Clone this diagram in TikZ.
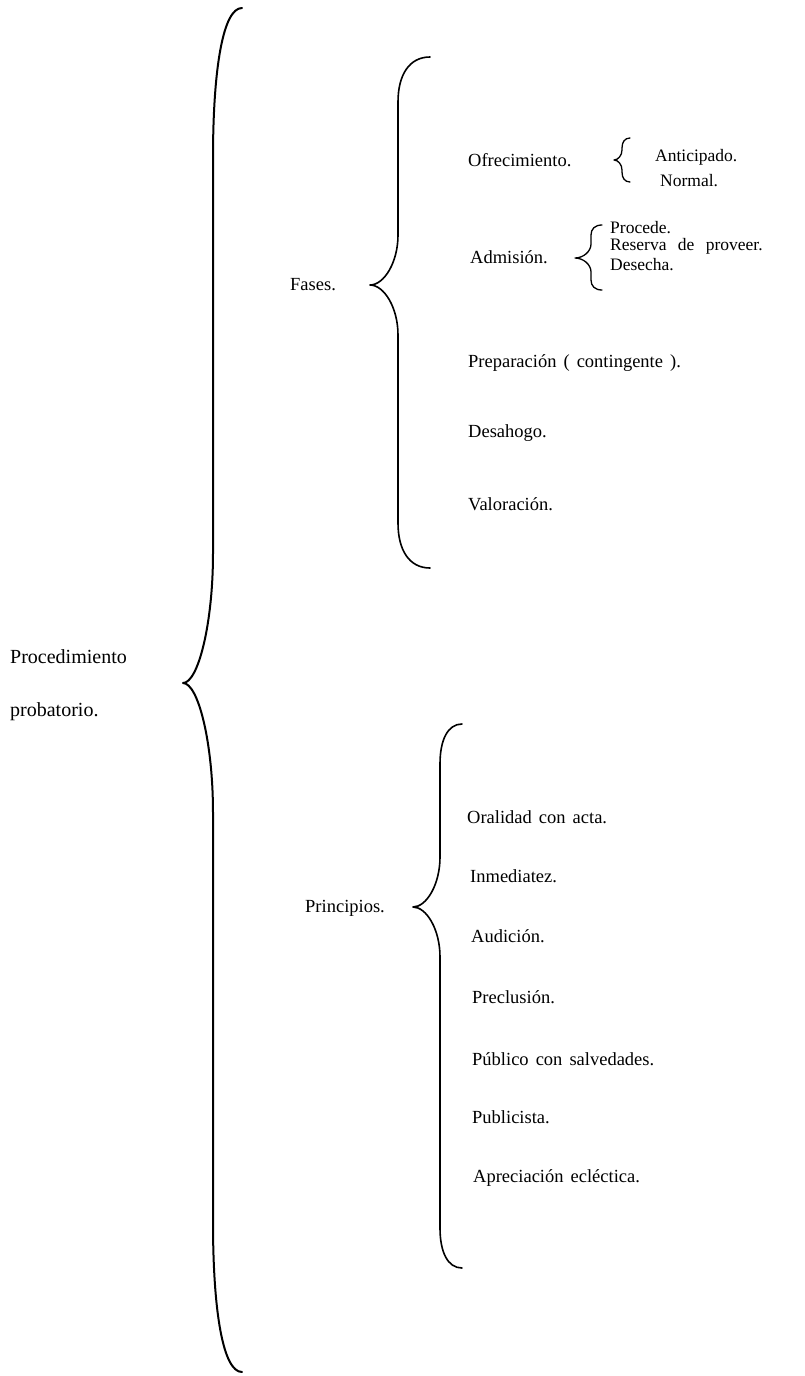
\documentclass[tikz,border=0pt]{standalone}
\usepackage{fontspec}
\setmainfont{Liberation Serif}
\newcommand\widespaces{\spaceskip=0.38em plus 0.1em\relax}
% left-pointing curly brace:
% #1 options, #2 end x, #3 spine x, #4 tip x, #5 top y, #6 tip y, #7 bottom y,
% #8 length of the end curves, #9 length of the tip curves
\newcommand\leftcurly[9][]{%
  \draw[bracestroke,#1] (#2,#5)
    .. controls ({#3+0.35*(#2-#3)},#5) and (#3,{#5+0.4*#8}) .. (#3,{#5+#8})
    -- (#3,{#6-#9})
    .. controls (#3,{#6-0.45*#9}) and ({#4+0.5*(#3-#4)},#6) .. (#4,#6)
    .. controls ({#4+0.5*(#3-#4)},#6) and (#3,{#6+0.45*#9}) .. (#3,{#6+#9})
    -- (#3,{#7-#8})
    .. controls (#3,{#7-0.4*#8}) and ({#3+0.35*(#2-#3)},#7) .. (#2,#7);}
\begin{document}
\begin{tikzpicture}[x=1pt,y=-1pt,
  txt/.style={anchor=west,inner sep=0pt,font=\fontsize{18.5}{19}\selectfont,
    execute at begin node=\widespaces},
  roottxt/.style={txt,font=\fontsize{20}{21}\selectfont},
  subtxt/.style={txt,font=\fontsize{17.5}{19}\selectfont},
  bracestroke/.style={line width=1.6pt,line cap=round,line join=round}]
\useasboundingbox (0,0) rectangle (804,1376);

% root
\node[roottxt] (proc) at (10,657) {Procedimiento};
\node[roottxt] (prob) at (10,712) {probatorio.};
\leftcurly[line width=2pt]{242}{213}{183}{8}{683}{1372}{150}{130}

% phases
\node[txt] (fases) at (290,285) {Fases.};
\leftcurly{430}{398}{370}{57}{285}{568}{45}{50}

\node[txt] (ofre) at (468,160) {Ofrecimiento.};
\leftcurly[line width=1.3pt]{630}{622}{614}{138}{160}{182}{10}{10}
\node[subtxt] (anti) at (655,157) {Anticipado.};
\node[subtxt] (norm) at (660,181) {Normal.};

\node[txt] (admi) at (470,257) {Admisión.};
\leftcurly[line width=1.3pt]{602}{591}{575}{225}{258}{290}{10}{14}
\node[subtxt] (proce) at (610,228) {Procede.};
\node[subtxt,execute at begin node={\spaceskip=0.65em\relax}] (reser) at (610,246) {Reserva de proveer.};
\node[subtxt] (dese) at (610,265) {Desecha.};

\node[txt] (prep) at (468,363) {Preparación ( contingente ).};
\node[txt] (desa) at (468,433) {Desahogo.};
\node[txt] (valo) at (468,504) {Valoración.};

% principles
\node[txt] (prin) at (305,908) {Principios.};
\leftcurly{462}{440}{413}{724}{907}{1268}{40}{50}

\node[txt] (oral) at (467,817) {Oralidad con acta.};
\node[txt] (inme) at (470,876) {Inmediatez.};
\node[txt] (audi) at (471,936) {Audición.};
\node[txt] (prec) at (472,997) {Preclusión.};
\node[txt] (publ) at (472,1059) {Público con salvedades.};
\node[txt] (pubs) at (472,1117) {Publicista.};
\node[txt] (apre) at (473,1178) {Apreciación ecléctica.};
\end{tikzpicture}
\end{document}
